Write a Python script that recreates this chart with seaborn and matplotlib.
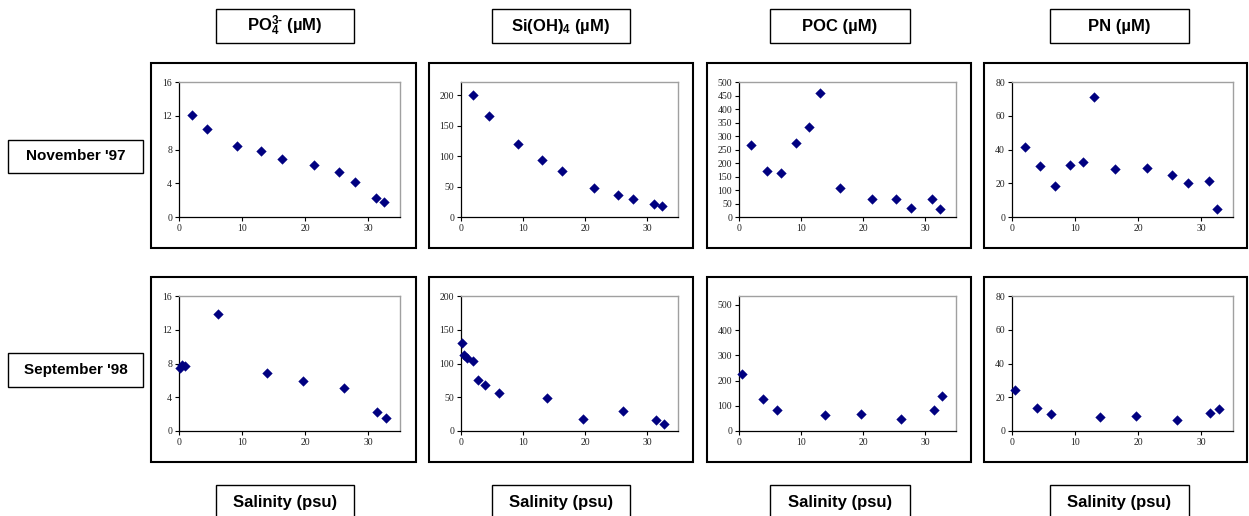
import numpy as np
import pandas as pd
import seaborn as sns
import matplotlib
matplotlib.use("Agg")
import matplotlib.pyplot as plt
from matplotlib.patches import Rectangle

sns.set_style("white")
plt.rcParams["font.family"] = ["Liberation Sans", "DejaVu Sans"]
plt.rcParams["text.color"] = "black"
plt.rcParams["mathtext.fontset"] = "custom"
plt.rcParams["mathtext.rm"] = "Liberation Sans:bold"
plt.rcParams["mathtext.it"] = "Liberation Sans:bold"
plt.rcParams["mathtext.bf"] = "Liberation Sans:bold"

nan = np.nan

# November 1997 survey
sal_nov = [2.0, 4.5, 6.8, 9.2, 11.3, 13.0, 16.3, 21.4, 25.3, 27.8, 31.2, 32.4]
po4_nov = [12.1, 10.4, nan, 8.4, nan, 7.8, 6.9, 6.2, 5.3, 4.2, 2.3, 1.8]
si_nov = [200, 166, nan, 120, nan, 93, 75, 47, 36, 29, 22, 18]
poc_nov = [266, 169, 163, 274, 335, 459, 109, 68, 67, 34, 65, 31]
pn_nov = [41.4, 30.3, 18.4, 31.1, 32.5, 71.3, 28.7, 28.9, 24.6, 20.4, 21.4, 4.8]

# September 1998 survey
sal_sep = [0.2, 0.5, 1.0, 1.9, 2.8, 3.9, 6.2, 13.9, 19.7, 26.1, 31.4, 32.8]
po4_sep = [7.5, 7.8, 7.7, nan, nan, nan, 13.9, 6.9, 5.9, 5.1, 2.3, 1.6]
si_sep = [131, 112, 108, 103, 75, 68, 56, 49, 18, 30, 16, 11]
poc_sep = [nan, 225, nan, nan, nan, 126, 83, 64, 66, 48, 83, 140]
pn_sep = [nan, 24.4, nan, nan, nan, 13.7, 10.3, 8.1, 8.7, 6.5, 10.5, 12.9]

col_titles = [r"PO$_4^{3\text{-}}$ (µM)", r"Si(OH)$_4$ (µM)", "POC (µM)", "PN (µM)"]
row_titles = ["November '97", "September '98"]
x_title = "Salinity (psu)"

rows = [
    (sal_nov, [po4_nov, si_nov, poc_nov, pn_nov]),
    (sal_sep, [po4_sep, si_sep, poc_sep, pn_sep]),
]
# (ymax, tick step) per panel
y_scales = [
    [(16, 4), (222, 50), (500, 50), (80, 20)],
    [(16, 4), (200, 50), (535, 100), (80, 20)],
]

W, H = 1249, 516
fig = plt.figure(figsize=(W / 100, H / 100), dpi=100)


def fx(px):
    return px / W


def fy(py):
    return 1 - py / H


def rect(x0, y0, x1, y1, lw):
    fig.add_artist(Rectangle((fx(x0), fy(y1)), fx(x1) - fx(x0), fy(y0) - fy(y1),
                             transform=fig.transFigure, fill=False,
                             edgecolor="black", linewidth=lw, zorder=0))


outer_x = [(151, 416), (429, 693), (707, 971), (984, 1247)]
outer_y = [(63, 248), (277, 462)]
plot_x = [(179, 400), (461, 678), (739, 956), (1012, 1233)]
plot_y = [(82, 217), (296, 431)]
navy = "#000080"

for r, (sal, series) in enumerate(rows):
    for c, vals in enumerate(series):
        rect(outer_x[c][0], outer_y[r][0], outer_x[c][1], outer_y[r][1], 1.5)
        x0, x1 = plot_x[c]
        y0, y1 = plot_y[r]
        ax = fig.add_axes([fx(x0), fy(y1), fx(x1) - fx(x0), fy(y0) - fy(y1)])
        df = pd.DataFrame({"sal": sal, "val": vals}).dropna()
        sns.scatterplot(data=df, x="sal", y="val", ax=ax, marker="D", s=24,
                        color=navy, edgecolor=navy, linewidth=0.3, legend=False,
                        clip_on=False, zorder=3)
        ymax, step = y_scales[r][c]
        ax.set_xlim(0, 35)
        ax.set_ylim(0, ymax)
        ax.set_xticks([0, 10, 20, 30])
        ax.set_yticks(np.arange(0, ymax + 0.01, step))
        ax.set_xlabel("")
        ax.set_ylabel("")
        for side in ("top", "right"):
            ax.spines[side].set_color("#a0a0a0")
            ax.spines[side].set_linewidth(1.0)
        for side in ("left", "bottom"):
            ax.spines[side].set_color("black")
            ax.spines[side].set_linewidth(0.9)
        ax.tick_params(axis="both", direction="out", length=3, width=0.8,
                       color="black", labelsize=7, pad=2, labelcolor="#222222")
        ax.tick_params(left=True, bottom=True)
        for lab in ax.get_xticklabels() + ax.get_yticklabels():
            lab.set_fontfamily("Liberation Serif")
        ax.set_facecolor("white")


def label_box(x0, y0, x1, y1, text, size):
    rect(x0, y0, x1, y1, 1.0)
    fig.text((fx(x0) + fx(x1)) / 2, (fy(y0) + fy(y1)) / 2, text, ha="center",
             va="center", fontsize=size, fontweight="bold", color="black")


head_x = [(216, 354), (492, 630), (770, 910), (1050, 1189)]
for c in range(4):
    label_box(head_x[c][0], 9, head_x[c][1], 43, col_titles[c], 12)
    label_box(head_x[c][0], 485, head_x[c][1], 521, x_title, 12)

label_box(8, 140, 143, 173, row_titles[0], 11)
label_box(8, 353, 143, 387, row_titles[1], 11)

fig.savefig("out.png", dpi=100, facecolor="white")
